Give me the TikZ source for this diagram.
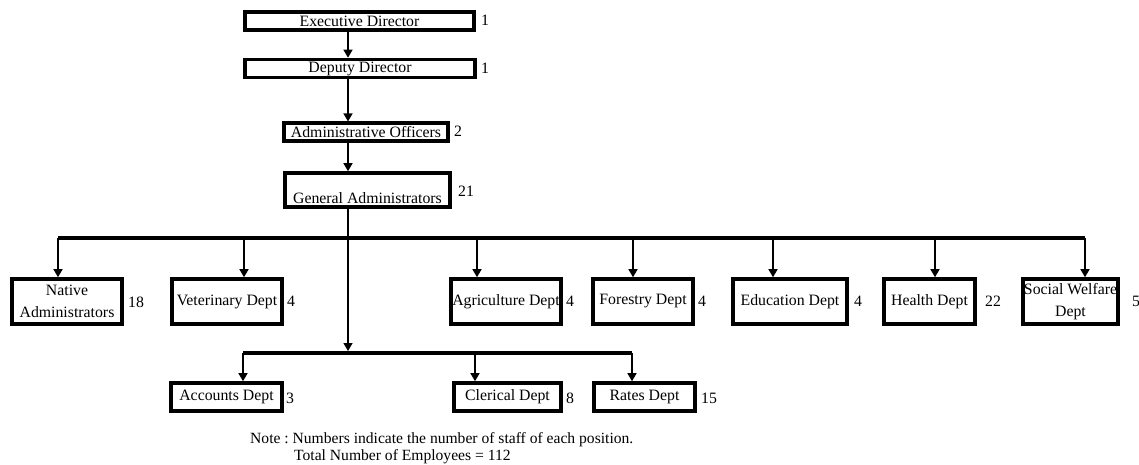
\documentclass[tikz,border=0pt]{standalone}
\usepackage{fontspec}
\setmainfont{Liberation Serif}
\usetikzlibrary{arrows.meta}
\begin{document}
\frenchspacing
\begin{tikzpicture}[x=1pt,y=-1pt,
  every node/.style={font=\fontsize{15.8}{18.5}\selectfont},
  box/.style={draw, line width=3.6pt, inner sep=0pt, align=center},
  num/.style={anchor=west, inner sep=0pt},
  notetext/.style={anchor=west, inner sep=0pt, font=\fontsize{15.6}{18}\selectfont\frenchspacing},
  arr/.style={line width=1.4pt, -{Triangle[length=8pt,width=9pt]}},
  bar/.style={line width=4pt}]
\useasboundingbox (0,0) rectangle (1139,464);
% top chain
\node[box, minimum width=229, minimum height=17.5] (exec) at (359.5,21) {Executive Director};
\node[box, minimum width=230, minimum height=18] (dep) at (360,68.5) {Deputy Director};
\node[box, minimum width=164, minimum height=17.5] (aoff) at (366,132) {Administrative Officers};
\node[box, minimum width=165, minimum height=34,
      label={[yshift=-8pt]center:General Administrators}] (gen) at (367.5,190) {};
\node[num] (nexec) at (481,20) {1};
\node[num] (ndep) at (481,68) {1};
\node[num] (naoff) at (454,131) {2};
\node[num] (ngen) at (458,191) {21};
% trunk coordinates
\coordinate (tx) at (348,0);
\draw[arr] (exec.south -| tx) -- (dep.north -| tx);
\draw[arr] (dep.south -| tx) -- (aoff.north -| tx);
\draw[arr] (aoff.south -| tx) -- (gen.north -| tx);
% upper bar
\coordinate (b1) at (58,238);
\coordinate (b2) at (244,238);
\coordinate (b3) at (477,238);
\coordinate (b4) at (633,238);
\coordinate (b5) at (773,238);
\coordinate (b6) at (935,238);
\coordinate (b7) at (1085,238);
\draw[bar] (b1) -- (b7);
% second row
\node[box, minimum width=110, minimum height=45] (nat) at (67,301.5) {Native\\[4pt]Administrators};
\node[box, minimum width=110, minimum height=45] (vet) at (227,301.5) {Veterinary Dept};
\node[box, minimum width=110, minimum height=45] (agr) at (506,301.5) {Agriculture Dept};
\node[box, minimum width=100, minimum height=45] (for) at (643,301.5) {Forestry Dept};
\node[box, minimum width=114, minimum height=45] (edu) at (790,301.5) {Education Dept};
\node[box, minimum width=91, minimum height=45] (hea) at (929.5,301.5) {Health Dept};
\node[box, minimum width=95, minimum height=45] (soc) at (1070.5,301.5) {Social Welfare\\[4pt]Dept};
\node[num] (nnat) at (128,302) {18};
\node[num] (nvet) at (287,301) {4};
\node[num] (nagr) at (566,301) {4};
\node[num] (nfor) at (698,301) {4};
\node[num] (nedu) at (854,301) {4};
\node[num] (nhea) at (985,301) {22};
\node[num] (nsoc) at (1132,301) {5};
\draw[arr] (b1) -- (b1 |- nat.north);
\draw[arr] (b2) -- (b2 |- vet.north);
\draw[arr] (b3) -- (b3 |- agr.north);
\draw[arr] (b4) -- (b4 |- for.north);
\draw[arr] (b5) -- (b5 |- edu.north);
\draw[arr] (b6) -- (b6 |- hea.north);
\draw[arr] (b7) -- (b7 |- soc.north);
% lower bar
\coordinate (c1) at (243,353);
\coordinate (c2) at (475,353);
\coordinate (c3) at (632,353);
\draw[arr, shorten >=2pt] (gen.south -| tx) -- (c1 -| tx);
\draw[bar] (c1) -- (c3);
\node[box, minimum width=111, minimum height=28] (acc) at (226.5,397) {Accounts Dept};
\node[box, minimum width=107, minimum height=28] (cle) at (507.5,397) {Clerical Dept};
\node[box, minimum width=101, minimum height=28] (rat) at (644.5,397) {Rates Dept};
\node[num] (nacc) at (286,398) {3};
\node[num] (ncle) at (566,398) {8};
\node[num] (nrat) at (701,398) {15};
\draw[arr] (c1) -- (c1 |- acc.north);
\draw[arr] (c2) -- (c2 |- cle.north);
\draw[arr] (c3) -- (c3 |- rat.north);
% note
\node[notetext] (note1) at (250,440) {Note : Numbers indicate the number of staff of each position.};
\node[notetext] (note2) at (294,457) {Total Number of Employees = 112};
\end{tikzpicture}
\end{document}
